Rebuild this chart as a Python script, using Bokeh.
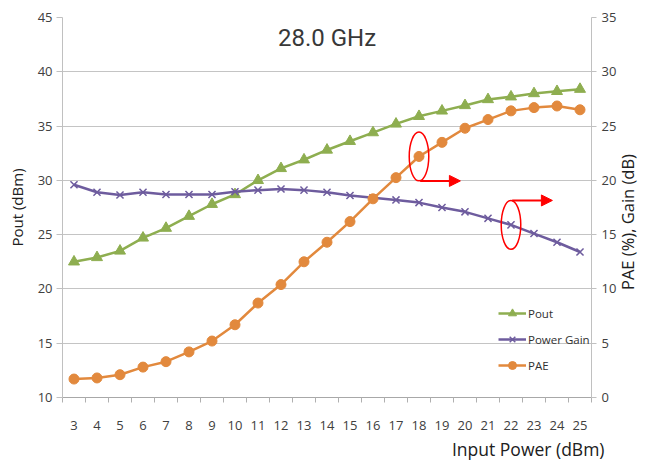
from math import pi
from bokeh.plotting import figure
from bokeh.models import (Range1d, LinearAxis, FixedTicker, Label, Legend, LegendItem,
                          Arrow, NormalHead, ColumnDataSource, Title)
from bokeh.embed import file_html
from bokeh.resources import INLINE

input_power = list(range(3, 26))
pout = [22.5, 22.9, 23.5, 24.7, 25.6, 26.7, 27.8, 28.7, 30.0, 31.1, 31.9, 32.8,
        33.6, 34.4, 35.2, 35.9, 36.4, 36.9, 37.45, 37.7, 38.0, 38.2, 38.4]
gain = [19.6, 18.9, 18.65, 18.9, 18.7, 18.7, 18.7, 18.95, 19.1, 19.2, 19.1, 18.9,
        18.6, 18.4, 18.2, 17.95, 17.5, 17.1, 16.5, 15.9, 15.1, 14.3, 13.4]
pae = [1.7, 1.8, 2.1, 2.8, 3.3, 4.2, 5.2, 6.7, 8.7, 10.4, 12.5, 14.3,
       16.2, 18.3, 20.25, 22.2, 23.5, 24.8, 25.6, 26.4, 26.7, 26.85, 26.5]
left_ticks = [10, 15, 20, 25, 30, 35, 40, 45]
right_ticks = [0, 5, 10, 15, 20, 25, 30, 35]
right_title = "PAE (%), Gain (dB)"
right_title_start = 9.9   # right-axis value where the rotated title begins
highlight_pae_x = 18
highlight_gain_x = 22

GREEN = "#8EAE50"
PURPLE = "#6E5C9E"
ORANGE = "#E2893D"
FONT = "Open Sans"
TXT = "#404040"

p = figure(width=653, height=463, output_backend="svg", toolbar_location=None,
           x_range=Range1d(2.5, 25.5), y_range=Range1d(10, 45),
           min_border_left=62, min_border_right=55, min_border_top=17, min_border_bottom=66)
p.extra_y_ranges = {"right": Range1d(0, 35)}
p.outline_line_color = None
p.background_fill_color = "white"
p.border_fill_color = "white"

# x axis
xa = p.xaxis[0]
xa.ticker = FixedTicker(ticks=input_power, minor_ticks=[v - 0.5 for v in input_power] + [25.5])
xa.major_tick_line_color = None
xa.minor_tick_out = 5
xa.minor_tick_in = 0
xa.minor_tick_line_color = "#b0b0b0"
xa.axis_line_color = "#a8a8a8"
xa.major_label_standoff = 17
xa.major_label_text_font = FONT
xa.major_label_text_font_size = "13px"
xa.major_label_text_color = TXT

# left axis
ya = p.yaxis[0]
ya.ticker = FixedTicker(ticks=left_ticks)
ya.minor_tick_line_color = None
ya.major_tick_out = 6
ya.major_tick_in = 0
ya.major_tick_line_color = "#c0c0c0"
ya.axis_line_color = "#c0c0c0"
ya.major_label_standoff = 4
ya.major_label_text_font = FONT
ya.major_label_text_font_size = "13px"
ya.major_label_text_color = TXT
ya.axis_label = "Pout (dBm)"
ya.axis_label_text_font = FONT
ya.axis_label_text_font_size = "15px"
ya.axis_label_text_font_style = "normal"
ya.axis_label_text_color = "#202020"
ya.axis_label_standoff = 8

# right axis
ra = LinearAxis(y_range_name="right", ticker=FixedTicker(ticks=right_ticks))
ra.minor_tick_line_color = None
ra.major_tick_out = 5
ra.major_tick_in = 0
ra.major_tick_line_color = "#c0c0c0"
ra.axis_line_color = "#c0c0c0"
ra.major_label_standoff = 5
ra.major_label_text_font = FONT
ra.major_label_text_font_size = "13px"
ra.major_label_text_color = TXT
p.add_layout(ra, "right")

# right axis title, drawn as a rotated label of a bare axis so it reads bottom-to-top
ta = LinearAxis(y_range_name="right", ticker=FixedTicker(ticks=[right_title_start]))
ta.major_label_overrides = {right_title_start: right_title}
ta.major_label_orientation = pi / 2
ta.axis_line_color = None
ta.major_tick_line_color = None
ta.minor_tick_line_color = None
ta.major_tick_out = 0
ta.major_tick_in = 0
ta.major_label_standoff = 8
ta.major_label_text_font = FONT
ta.major_label_text_font_size = "16.5px"
ta.major_label_text_color = "#202020"
p.add_layout(ta, "right")

p.add_layout(Title(text="Input Power (dBm)", align="right", offset=-13, text_font=FONT,
                   text_font_size="17.5px", text_font_style="normal", text_color="#202020",
                   standoff=5), "below")

p.xgrid.grid_line_color = None
p.ygrid.ticker = FixedTicker(ticks=left_ticks)
p.ygrid.grid_line_color = "#c4c4c4"
p.ygrid.grid_line_width = 1

src = ColumnDataSource(dict(x=input_power, pout=pout, gain=gain, pae=pae))

l1 = p.line("x", "pout", source=src, line_color=GREEN, line_width=2.5)
m1 = p.scatter("x", "pout", source=src, marker="triangle", size=11, fill_color=GREEN, line_color=GREEN)
l2 = p.line("x", "gain", source=src, line_color=PURPLE, line_width=2.5, y_range_name="right")
m2 = p.scatter("x", "gain", source=src, marker="x", size=10, line_color=PURPLE, line_width=1.5,
               y_range_name="right")
l3 = p.line("x", "pae", source=src, line_color=ORANGE, line_width=2.5, y_range_name="right")
m3 = p.scatter("x", "pae", source=src, marker="circle", size=10, fill_color=ORANGE, line_color=ORANGE,
               y_range_name="right")

# red highlight annotations
ew, eh = 0.85, 4.5
py = pae[input_power.index(highlight_pae_x)]
gy = gain[input_power.index(highlight_gain_x)]
p.ellipse(x=[highlight_pae_x, highlight_gain_x], y=[py, gy], width=ew, height=eh,
          fill_color=None, line_color="red", line_width=1.5, y_range_name="right")
for sx, sy in [(highlight_pae_x, py - eh / 2), (highlight_gain_x, gy + eh / 2)]:
    p.add_layout(Arrow(end=NormalHead(size=11, fill_color="red", line_color="red"),
                       x_start=sx + 0.05, y_start=sy, x_end=sx + 1.8, y_end=sy,
                       line_color="red", line_width=2, y_range_name="right"))

legend = Legend(items=[LegendItem(label="Pout", renderers=[l1, m1]),
                       LegendItem(label="Power Gain", renderers=[l2, m2]),
                       LegendItem(label="PAE", renderers=[l3, m3])],
                location=(436, 22), padding=0, margin=0, spacing=6,
                glyph_width=28, glyph_height=20, label_standoff=2,
                label_text_font=FONT, label_text_font_size="11.5px", label_text_color="#303030",
                border_line_color=None, background_fill_alpha=0)
p.add_layout(legend)

p.add_layout(Label(x=14.0, y=43.1, text="28.0 GHz", text_align="center", text_baseline="middle",
                   text_font="Roboto", text_font_size="24px", text_color="#383838"))

open("out.html", "w").write(file_html(p, INLINE))
